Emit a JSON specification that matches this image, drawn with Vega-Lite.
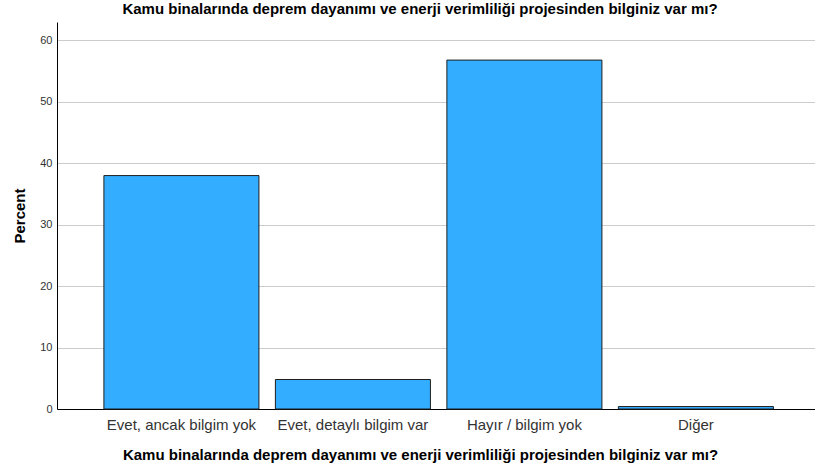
{
  "$schema": "https://vega.github.io/schema/vega-lite/v6.json",
  "autosize": "none",
  "width": 758,
  "height": 387,
  "padding": {"left": 57, "top": 22, "right": 0, "bottom": 64},
  "background": "white",
  "title": {
    "text": "Kamu binalarında deprem dayanımı ve enerji verimliliği projesinden bilginiz var mı?",
    "font": "Liberation Sans",
    "fontSize": 15,
    "fontWeight": "bold",
    "color": "#000000",
    "anchor": "middle",
    "dx": -16,
    "offset": 5
  },
  "data": {
    "values": [
      {"cevap": "Evet, ancak bilgim yok", "percent": 38.0},
      {"cevap": "Evet, detaylı bilgim var", "percent": 4.8},
      {"cevap": "Hayır / bilgim yok", "percent": 56.8},
      {"cevap": "Diğer", "percent": 0.4}
    ]
  },
  "mark": {"type": "bar", "color": "#33adff", "stroke": "#1f1f1f", "strokeWidth": 1},
  "encoding": {
    "x": {
      "field": "cevap",
      "type": "nominal",
      "sort": null,
      "scale": {"paddingInner": 0.096, "paddingOuter": 0.258, "align": 0.53},
      "axis": {
        "title": "Kamu binalarında deprem dayanımı ve enerji verimliliği projesinden bilginiz var mı?",
        "titleFont": "Liberation Sans",
        "titleFontSize": 15,
        "titleFontWeight": "bold",
        "titleColor": "#000000",
        "titlePadding": 15,
        "titleX": 363,
        "titleAlign": "center",
        "labelAngle": 0,
        "labelFont": "Liberation Sans",
        "labelFontSize": 15,
        "labelColor": "#333333",
        "labelPadding": 8,
        "ticks": false,
        "domainColor": "#000000",
        "domainWidth": 1
      }
    },
    "y": {
      "field": "percent",
      "type": "quantitative",
      "scale": {"domain": [0, 63], "nice": false},
      "axis": {
        "title": "Percent",
        "titleFont": "Liberation Sans",
        "titleFontSize": 15,
        "titleFontWeight": "bold",
        "titleColor": "#000000",
        "titlePadding": 12,
        "values": [0, 10, 20, 30, 40, 50, 60],
        "labelFont": "Liberation Sans",
        "labelFontSize": 11,
        "labelColor": "#333333",
        "labelPadding": 5,
        "ticks": false,
        "grid": true,
        "gridColor": "#cccccc",
        "gridWidth": 1,
        "domainColor": "#000000",
        "domainWidth": 1
      }
    }
  },
  "config": {"view": {"stroke": null}}
}
